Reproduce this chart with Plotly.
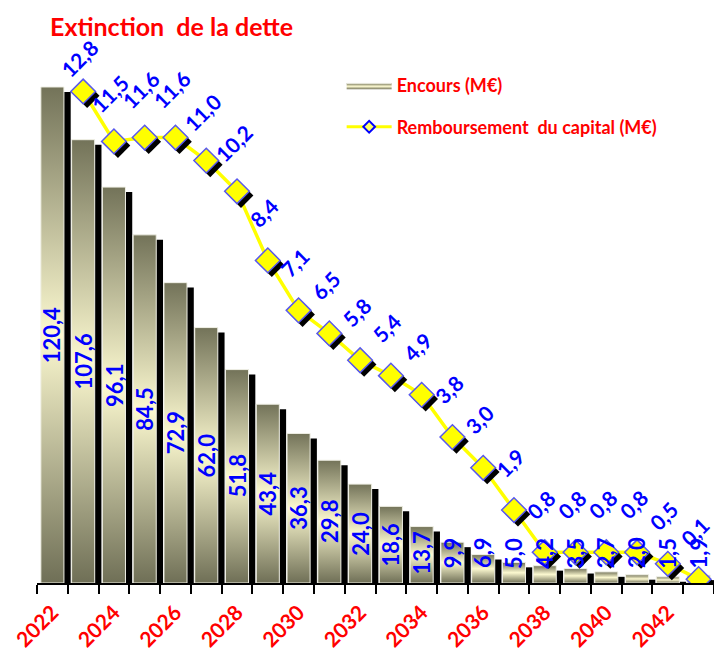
import plotly.graph_objects as go

# Outstanding debt per year (M€) and capital repaid per year (M€)
years = list(range(2022, 2044))
encours = [120.4, 107.6, 96.1, 84.5, 72.9, 62.0, 51.8, 43.4, 36.3, 29.8, 24.0,
           18.6, 13.7, 9.9, 6.9, 5.0, 4.2, 3.5, 2.7, 2.0, 1.5, 1.9]
remb_years = list(range(2023, 2044))
remboursement = [12.8, 11.5, 11.6, 11.6, 11.0, 10.2, 8.4, 7.1, 6.5, 5.8, 5.4,
                 4.9, 3.8, 3.0, 1.9, 0.8, 0.8, 0.8, 0.8, 0.5, 0.1]
tick_years = years[::2]
tick_labels = [str(y) for y in tick_years]

FONT = "Lato"
RED = "#ff0000"
BLUE = "#0000ff"
BAR_W = 0.75
SHADOW_DX = 0.22      # drop shadow shift of the bars (x units)
SHADOW_DY = 1.2       # drop shadow drop of the bars (y units)
MK_DX, MK_DY = 0.13, 0.11   # drop shadow of the markers
Y1_MAX = 131.8
Y2_MAX = 14.14
GRAD = [[0.0, "#6f6f56"], [0.5, "#fcf9d0"], [1.0, "#737359"]]


def fr(v):
    return f"{v:.1f}".replace(".", ",")


fig = go.Figure()

# black drop shadow behind each bar
fig.add_trace(go.Bar(
    x=years, y=encours, base=-SHADOW_DY, width=BAR_W,
    offset=-BAR_W / 2 + SHADOW_DX,
    marker=dict(color="black", line=dict(width=0)),
    showlegend=False, hoverinfo="skip",
))

# bars with a vertical dark-light-dark gradient
for i, (yr, v) in enumerate(zip(years, encours)):
    h = BAR_W / 2
    fig.add_trace(go.Scatter(
        x=[yr - h, yr - h, yr + h, yr + h, yr - h],
        y=[0, v, v, 0, 0],
        mode="lines", fill="toself",
        fillgradient=dict(type="vertical", colorscale=GRAD, start=0, stop=v),
        line=dict(color="#f0f0e6", width=1),
        name="Encours (M€)", legendgroup="enc", showlegend=(i == 0),
        hoverinfo="skip",
    ))

# repayment line, marker shadows, markers
fig.add_trace(go.Scatter(
    x=remb_years, y=remboursement, yaxis="y2", mode="lines",
    line=dict(color="#ffff00", width=3.5), showlegend=False, hoverinfo="skip",
))
fig.add_trace(go.Scatter(
    x=[x + MK_DX for x in remb_years], y=[v - MK_DY for v in remboursement],
    yaxis="y2", mode="markers",
    marker=dict(symbol="diamond", size=19, color="black"),
    showlegend=False, hoverinfo="skip",
))
fig.add_trace(go.Scatter(
    x=remb_years, y=remboursement, yaxis="y2", mode="markers",
    marker=dict(symbol="diamond", size=19, color="#ffff00",
                line=dict(color="#5858ee", width=1.5)),
    showlegend=False,
))
# legend entry for the repayment series
fig.add_trace(go.Scatter(
    x=[None], y=[None], yaxis="y2", mode="lines+markers",
    line=dict(color="#ffff00", width=3),
    marker=dict(symbol="diamond", size=9, color="#ffff66",
                line=dict(color="#0000ff", width=2)),
    name="Remboursement  du capital (M€)", legendgroup="remb",
))

annotations = []
# bar value labels, vertical, centred in the bar
for yr, v in zip(years, encours):
    annotations.append(dict(
        x=yr, y=max(v / 2, 7.3), xref="x", yref="y", text=fr(v),
        showarrow=False, textangle=-90,
        font=dict(family=FONT, size=22, color=BLUE, weight="bold"),
        xanchor="center", yanchor="middle",
    ))
# repayment labels, diagonal, above the markers
for yr, v in zip(remb_years, remboursement):
    annotations.append(dict(
        x=yr, y=min(v + 1.25, 13.65), xref="x", yref="y2", text=fr(v),
        showarrow=False, textangle=-45, xshift=-4,
        font=dict(family=FONT, size=21, color=BLUE, weight="bold"),
        xanchor="center", yanchor="middle",
    ))

boundaries = [y - 0.5 for y in years] + [years[-1] + 0.5]

fig.update_layout(
    width=714, height=650,
    margin=dict(l=37, r=0, t=40, b=67),
    paper_bgcolor="white", plot_bgcolor="white",
    title=dict(text="Extinction  de la dette", x=50 / 714, xref="container",
               xanchor="left", y=1 - 27 / 650, yref="container",
               yanchor="middle",
               font=dict(family=FONT, size=25, color=RED, weight="bold")),
    xaxis=dict(range=[years[0] - 0.5, years[-1] + 0.5],
               tickmode="array", tickvals=tick_years, ticktext=tick_labels,
               tickangle=-45,
               tickfont=dict(family=FONT, size=21, color=RED, weight="bold"),
               ticks="outside", ticklen=7, tickcolor="rgba(0,0,0,0)",
               showline=True, linecolor="black", linewidth=2,
               showgrid=False, zeroline=False, automargin=False,
               minor=dict(tickmode="array", tickvals=boundaries, ticks="outside",
                          ticklen=9, tickwidth=2, tickcolor="black",
                          showgrid=False)),
    yaxis=dict(range=[0, Y1_MAX], visible=False),
    yaxis2=dict(range=[0, Y2_MAX], overlaying="y", visible=False),
    legend=dict(x=0.45, y=0.95, xanchor="left", yanchor="top",
                font=dict(family=FONT, size=18, color=RED, weight="bold"),
                bgcolor="rgba(0,0,0,0)", traceorder="grouped",
                tracegroupgap=15, itemwidth=45),
    annotations=annotations,
    showlegend=True,
)

fig.write_html("out.html")
